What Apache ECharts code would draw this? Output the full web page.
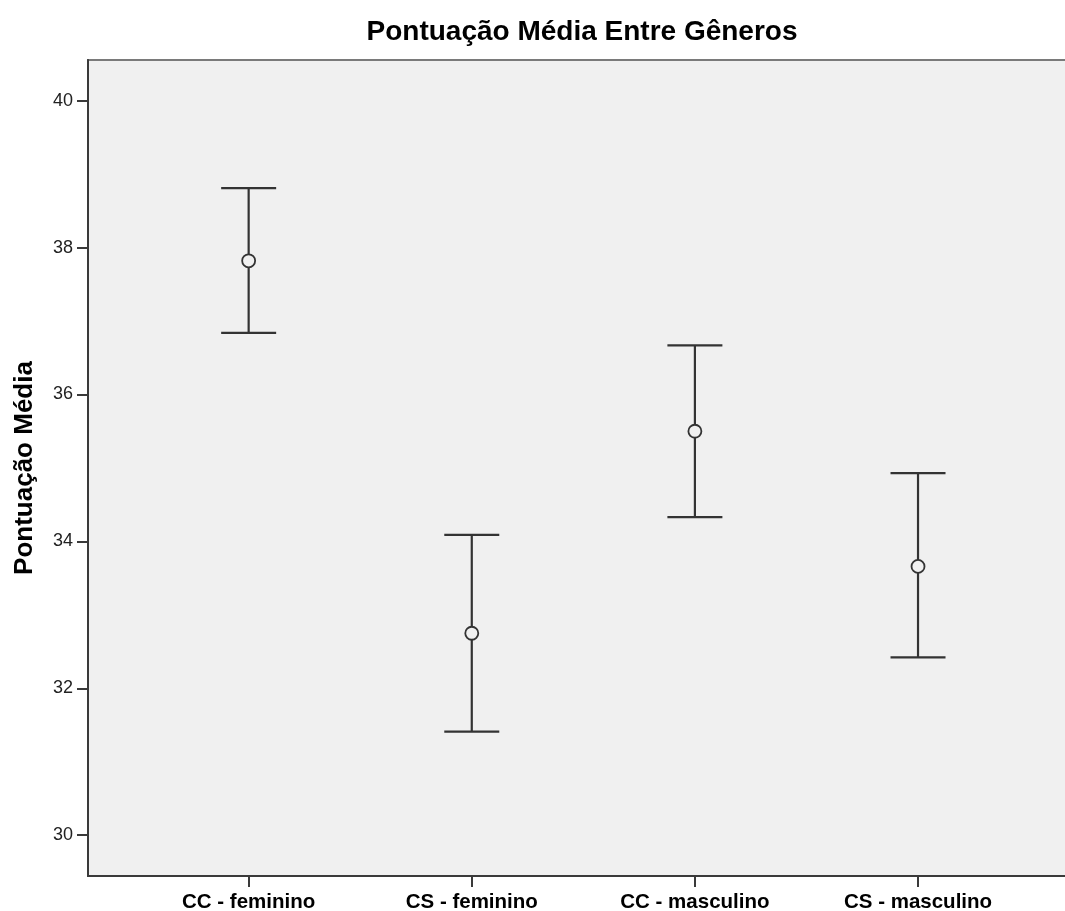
<!DOCTYPE html>
<html>
<head>
<meta charset="utf-8">
<script src="https://cdn.jsdelivr.net/npm/echarts@6/dist/echarts.min.js"></script>
<style>
html,body{margin:0;padding:0;background:#fff;overflow:hidden;}
#chart{width:1065px;height:911px;}
</style>
</head>
<body>
<div id="chart"></div>
<script>
const categories = ['CC - feminino', 'CS - feminino', 'CC - masculino', 'CS - masculino'];
const means = [37.82, 32.75, 35.50, 33.66];
const upper = [38.81, 34.09, 36.67, 34.93];
const lower = [36.84, 31.41, 34.33, 32.42];
const yTicks = [30, 32, 34, 36, 38, 40];
const catPositions = [0, 1, 2, 3];

const FONT = "'Liberation Sans', Arial, sans-serif";
const chart = echarts.init(document.getElementById('chart'), null, {renderer: 'canvas'});

const barData = categories.map((c, i) => [i, lower[i], upper[i]]);
const meanData = categories.map((c, i) => [i, means[i]]);

chart.setOption({
  animation: false,
  backgroundColor: '#ffffff',
  title: {
    text: 'Pontuação Média Entre Gêneros',
    left: 577,
    textAlign: 'center',
    top: 13,
    textStyle: {fontFamily: FONT, fontWeight: 'bold', fontSize: 28, color: '#000'}
  },
  grid: {
    left: 88, top: 60, width: 990, bottom: 35,
    outerBoundsMode: 'none',
    containLabel: false,
    show: true, backgroundColor: '#f0f0f0', borderColor: '#7a7a7a', borderWidth: 2
  },
  xAxis: {
    type: 'value',
    min: -0.72, max: 3.717,
    splitLine: {show: false},
    axisLine: {show: true, onZero: false, lineStyle: {color: '#3a3a3a', width: 2}},
    axisTick: {show: true, customValues: catPositions, length: 11, lineStyle: {color: '#3a3a3a', width: 2}},
    axisLabel: {
      customValues: catPositions,
      margin: 16,
      fontFamily: FONT, fontWeight: 'bold', fontSize: 20.5, color: '#000',
      formatter: v => categories[Math.round(v)]
    }
  },
  yAxis: {
    type: 'value',
    min: 29.445, max: 40.554,
    name: 'Pontuação Média',
    nameLocation: 'middle',
    nameRotate: 90,
    nameGap: 50,
    nameTextStyle: {fontFamily: FONT, fontWeight: 'bold', fontSize: 26, color: '#000'},
    splitLine: {show: false},
    axisLine: {show: true, onZero: false, lineStyle: {color: '#3a3a3a', width: 2}},
    axisTick: {show: true, customValues: yTicks, length: 11, lineStyle: {color: '#3a3a3a', width: 2}},
    axisLabel: {
      customValues: yTicks,
      margin: 15,
      fontFamily: FONT, fontSize: 18, color: '#222'
    }
  },
  series: [
    {
      type: 'custom',
      data: barData,
      renderItem: function (params, api) {
        const x = api.value(0);
        const lo = api.coord([x, api.value(1)]);
        const hi = api.coord([x, api.value(2)]);
        const half = 27.5;
        const style = {stroke: '#333', lineWidth: 2.2};
        return {
          type: 'group',
          children: [
            {type: 'line', shape: {x1: lo[0], y1: lo[1], x2: hi[0], y2: hi[1]}, style: style},
            {type: 'line', shape: {x1: hi[0] - half, y1: hi[1], x2: hi[0] + half, y2: hi[1]}, style: style},
            {type: 'line', shape: {x1: lo[0] - half, y1: lo[1], x2: lo[0] + half, y2: lo[1]}, style: style}
          ]
        };
      },
      z: 2
    },
    {
      type: 'scatter',
      data: meanData,
      symbol: 'circle',
      symbolSize: 13,
      itemStyle: {color: '#f0f0f0', borderColor: '#333', borderWidth: 1.8, opacity: 1},
      z: 3
    }
  ]
});
</script>
</body>
</html>
